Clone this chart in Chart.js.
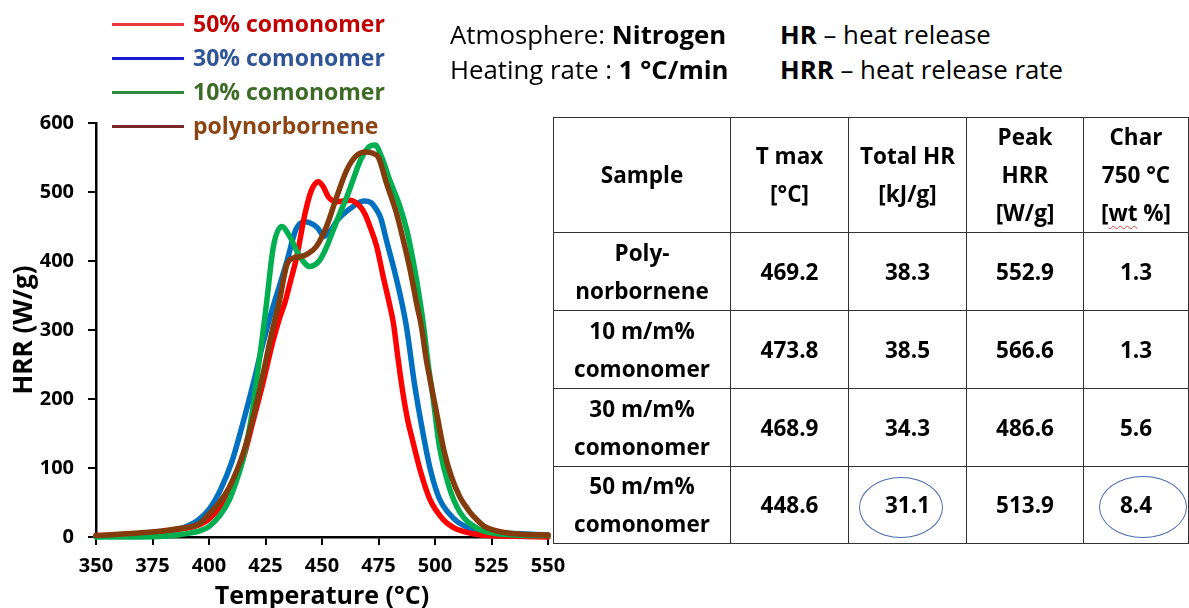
<!DOCTYPE html>
<html><head><meta charset="utf-8">
<script src="https://cdn.jsdelivr.net/npm/chart.js@4.4.1/dist/chart.umd.min.js"></script>
<style>
html,body{margin:0;padding:0;background:#fff;}
body{width:1189px;height:608px;position:relative;overflow:hidden;font-family:"Open Sans",sans-serif;color:#000;}
#wrap{position:absolute;left:0;top:0;width:580px;height:608px;}
.lgline{position:absolute;left:112px;width:72px;height:3px;}
.lgtext{position:absolute;left:193px;font-weight:bold;font-size:23px;line-height:30px;white-space:nowrap;}
.hdr{position:absolute;font-size:25.8px;line-height:34px;white-space:nowrap;}
table{position:absolute;left:553px;top:117px;border-collapse:collapse;font-weight:bold;font-size:22.5px;}
td{border:1.5px solid #333;text-align:center;vertical-align:middle;padding:0;line-height:38px;}
.wt{text-decoration:underline wavy #e04040;text-decoration-thickness:1px;text-underline-offset:4px;}
.ell{position:absolute;border:1.4px solid #4a6cb0;border-radius:50%;}
</style></head>
<body>
<div id="wrap"><canvas id="c" width="580" height="608"></canvas></div>

<div id="legend"></div>

<div class="hdr" style="left:450px;top:17px;">Atmosphere: <b>Nitrogen</b></div>
<div class="hdr" style="left:450px;top:52px;">Heating rate : <b>1 °C/min</b></div>
<div class="hdr" style="left:780px;top:17px;"><b>HR</b> – heat release</div>
<div class="hdr" style="left:780px;top:52px;"><b>HRR</b> – heat release rate</div>

<table id="tbl"></table>
<div class="ell" style="left:859px;top:477px;width:82px;height:59px;"></div>
<div class="ell" style="left:1099px;top:476px;width:86px;height:60px;"></div>

<script>
// ---- Series data ----
const seriesNames = ["50% comonomer", "30% comonomer", "10% comonomer", "polynorbornene"];

const temp50 = [350,360,370,380,386,392,396,400,405,409,415,419.5,424,428,431,433.6,436,438.8,442.5,445.4,448.4,450.5,452.8,456.5,462.4,466.8,469,471.2,474.2,477.1,480.1,481.6,483.5,485.5,488,489.7,493.4,497.8,503.7,508,512.5,518,524,535,550];
const hrr50  = [2,3,5,8,11,14,18,26,44,66,112,168,225,280,315,340,370,406,469,503,515,508,493,486,488,479,468,450,421,377,334,310,262,215,168,145,97,54,25,14,8,4,2,1,0];

const temp30 = [350,360,370,380,385,390,395,400,405,410,415,420,424,428,431,434.5,438.5,442.5,446,448,451,454,457,462.5,468.5,471.5,474,476,478.5,482.5,485.5,487.5,491,495,498,502,506,510,515,520,527,535,550];
const hrr30  = [1,2,4,7,10,15,24,40,68,108,165,228,282,330,362,400,446,457,453,448,436,445,460,476,487,485,475,462,430,380,337,302,220,145,97,55,35,22,13,8,6,5,3];

const temp10 = [350,370,380,386,392,396,400,405,409,412,415,419,422,424,425.5,428.5,432.2,435.8,440.3,444.7,449,452,455,458,461,464,467,471,473.5,476.5,480,484.5,487.5,490.5,493.5,495,497,499,502,506,511,518.5,527,535,550];
const hrr10  = [0,0,1,3,6,9,15,32,54,80,112,178,250,300,340,421,450,435,406,392,401,420,445,470,493,520,546,566,568,550,517,479,445,397,339,305,250,205,130,75,36,13,5,3,2];

const tempPN = [350,360,370,380,386,392,396,400,405,409,415,419.5,424,427.5,431,434.5,437,440,443.5,447.5,452,456.5,461,465,469.5,472.5,475,478.5,483,486,489,492,494,496,498,501,504,507,511,515,518.5,522,526,530,538,550];
const hrrPN  = [2,4,6,9,12,15,20,33,52,72,120,173,237,292,340,395,404,406,410,421,450,493,532,552,558,556,550,513,469,430,387,336,305,260,225,175,125,90,58,38,25,15,10,7,4,3];

// axis ticks
const xTickValues = [350,375,400,425,450,475,500,525,550];
const yTickValues = [0,100,200,300,400,500,600];

// ---- Table data ----
const tableHeaders = [["Sample"],["T max","[°C]"],["Total HR","[kJ/g]"],["Peak","HRR","[W/g]"],["Char","750 °C","[wt %]"]];
const tableSamples = [["Poly-","norbornene"],["10 m/m%","comonomer"],["30 m/m%","comonomer"],["50 m/m%","comonomer"]];
const tMax    = ["469.2","473.8","468.9","448.6"];
const totalHR = ["38.3","38.5","34.3","31.1"];
const peakHRR = ["552.9","566.6","486.6","513.9"];
const char750 = ["1.3","1.3","5.6","8.4"];

// ---- Styles ----
const lineColors  = ["#ff0000","#0070c0","#00b050","#843c0c"];
const legLineCols = ["#e8383d","#1c1cd0","#2e8b3a","#7b2626"];
const legTextCols = ["#c00000","#2f5597","#3b6b26","#8b4513"];

// legend (HTML)
const legend = document.getElementById('legend');
const legY = [24,58,92,126];
seriesNames.forEach((n,i)=>{
  const l = document.createElement('div'); l.className='lgline';
  l.style.top=(legY[i]-1.5)+'px'; l.style.background=legLineCols[i]; legend.appendChild(l);
  const t = document.createElement('div'); t.className='lgtext';
  t.style.top=(legY[i]-16)+'px'; t.style.color=legTextCols[i]; t.textContent=n; legend.appendChild(t);
});

// table (HTML)
const tbl = document.getElementById('tbl');
const colW = [176,117,117,116,104];
const rowH = [109,77,77,77,76];
let tr = document.createElement('tr');
tableHeaders.forEach((h,j)=>{
  const td=document.createElement('td'); td.style.width=colW[j]+'px'; td.style.height=rowH[0]+'px';
  td.innerHTML = h.map(s=> s==="[wt %]" ? '[<span class="wt">wt</span> %]' : s).join('<br>');
  tr.appendChild(td);
});
tbl.appendChild(tr);
tableSamples.forEach((s,i)=>{
  const r=document.createElement('tr');
  [s.join('<br>'), tMax[i], totalHR[i], peakHRR[i], char750[i]].forEach((v,j)=>{
    const td=document.createElement('td'); td.style.width=colW[j]+'px'; td.style.height=rowH[i+1]+'px';
    td.innerHTML=v; r.appendChild(td);
  });
  tbl.appendChild(r);
});

// chart
const toXY = (xs,ys)=>xs.map((x,i)=>({x:x,y:ys[i]}));
const seriesData = [toXY(temp50,hrr50), toXY(temp30,hrr30), toXY(temp10,hrr10), toXY(tempPN,hrrPN)];
const drawOrder = [3,4,2,1];
const tickFont = {family:'Open Sans', size:20, weight:'bold'};

new Chart(document.getElementById('c'), {
  type:'line',
  data:{
    datasets: seriesNames.map((n,i)=>({
      label:n, data:seriesData[i], borderColor:lineColors[i], backgroundColor:lineColors[i],
      borderWidth:5.5, pointRadius:0, cubicInterpolationMode:'monotone', order:drawOrder[i], clip:false,
      borderCapStyle:'round', borderJoinStyle:'round'
    }))
  },
  options:{
    responsive:false, animation:false, devicePixelRatio:1,
    layout:{padding:{top:123,right:32,left:0,bottom:0}},
    plugins:{legend:{display:false}, tooltip:{enabled:false}},
    scales:{
      x:{type:'linear', min:350, max:550,
        afterBuildTicks:(s)=>{ s.ticks = xTickValues.map(v=>({value:v})); },
        ticks:{color:'#000', font:tickFont, padding:9, maxRotation:0, autoSkip:false},
        grid:{display:true, drawOnChartArea:false, drawTicks:true, tickLength:8, color:'#000', lineWidth:2},
        border:{display:true, color:'#000', width:2.5},
        title:{display:true, text:'Temperature (°C)', color:'#000', font:{family:'Open Sans', size:25, weight:'bold', lineHeight:1}, padding:{top:0,bottom:-1}},
        afterFit:(s)=>{ s.height = 71; }
      },
      y:{type:'linear', min:0, max:600,
        afterBuildTicks:(s)=>{ s.ticks = yTickValues.map(v=>({value:v})); },
        ticks:{color:'#000', font:tickFont, padding:14},
        grid:{display:true, drawOnChartArea:false, drawTicks:true, tickLength:8, color:'#000', lineWidth:2},
        border:{display:true, color:'#000', width:2.5},
        title:{display:true, text:'HRR (W/g)', color:'#000', font:{family:'Open Sans', size:26, weight:'bold', lineHeight:1}, padding:{top:12,bottom:0}},
        afterFit:(s)=>{ s.width = 96; }
      }
    }
  }
});
</script>
</body></html>
